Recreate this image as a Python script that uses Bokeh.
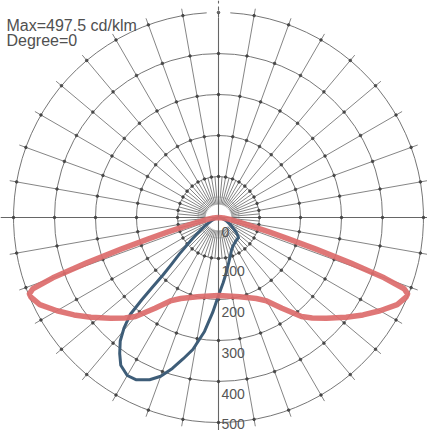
import numpy as np
from bokeh.plotting import figure
from bokeh.embed import file_html
from bokeh.resources import INLINE
from bokeh.core.properties import value

# ---- data (angle from nadir in degrees, intensity in cd/klm) ----
red_angles = [0, 15, 25, 30, 35, 40, 43, 47, 52, 56, 60, 64, 67, 68, 69, 70, 71, 72, 73, 74, 75, 77, 80, 85, 90]
red_values = [190, 200, 218, 235, 270, 315, 335, 360, 395, 425, 455, 485, 497, 497.5, 485, 430, 340, 250, 180, 130, 95, 60, 32, 12, 0]

blue_angles = [-90, -75, -65, -58, -53, -50, -47, -45, -44, -43.5, -43, -42.3, -40.5, -38.5, -36, -33.5, -30, -27, -23, -20,
               -17, -14, -11, -7, -3.5, 0, 4, 8, 13, 17.5, 22, 28, 35, 45, 50, 58, 68, 78, 90]
blue_values = [0, 8, 20, 40, 65, 90, 130, 165, 195, 235, 275, 320, 355, 385, 410, 432, 445, 444, 430, 412,
               385, 355, 328, 280, 232, 190, 160, 136, 112, 97, 85, 77, 72, 69, 57, 37, 20, 8, 0]

ring_values = [100, 200, 300, 400, 500]
ring_labels = ["0", "100", "200", "300", "400", "500"]
title_lines = ["Max=497.5 cd/klm", "Degree=0"]

# ---- layout ----
W, H = 427, 430
S = 0.41            # px per cd
CX, CY = 226 - 8, 225 - 8   # centre in figure px
u = 1.0 / S         # cd per px

p = figure(width=W, height=H, output_backend="svg", toolbar_location=None,
           x_range=(-CX * u, (W - CX) * u), y_range=(-(H - CY) * u, CY * u),
           min_border=0, outline_line_color=None, background_fill_color="white",
           border_fill_color="white")
p.axis.visible = False
p.grid.visible = False

grid_col = "#666666"

# rings (outer ring with a small gap at the top)
for r in ring_values:
    if r == 500:
        p.arc(x=0, y=0, radius=r, start_angle=np.deg2rad(93.3), end_angle=np.deg2rad(86.7 + 360),
              line_color=grid_col, line_width=0.9)
    else:
        p.arc(x=0, y=0, radius=r, start_angle=0, end_angle=2 * np.pi, line_color=grid_col, line_width=0.9)
p.arc(x=0, y=0, radius=50, start_angle=0, end_angle=2 * np.pi, line_color=grid_col, line_width=0.6, line_alpha=0.5)

# spokes
r_in = 13 * u
r_out = 212 * u
x0, y0, x1, y1 = [], [], [], []
for a in range(0, 360, 10):
    if a % 90 == 0:
        continue
    t = np.deg2rad(a)
    x0.append(r_in * np.cos(t)); y0.append(r_in * np.sin(t))
    x1.append(r_out * np.cos(t)); y1.append(r_out * np.sin(t))
for a in range(5, 360, 10):
    t = np.deg2rad(a)
    x0.append(r_in * np.cos(t)); y0.append(r_in * np.sin(t))
    x1.append(100 * np.cos(t)); y1.append(100 * np.sin(t))
p.segment(x0=x0, y0=y0, x1=x1, y1=y1, line_color=grid_col, line_width=0.8)
# main axes
p.segment(x0=[-218 * u, 0], y0=[0, -213 * u], x1=[209 * u, 0], y1=[0, 200 * u],
          line_color=grid_col, line_width=1.1)
p.segment(x0=[0], y0=[200 * u], x1=[0], y1=[217 * u], line_color=grid_col, line_width=1.1, line_dash="4 3")

# intersection dots
dx, dy = [], []
for r in ring_values:
    for a in range(0, 360, 10):
        t = np.deg2rad(a)
        dx.append(r * np.cos(t)); dy.append(r * np.sin(t))
p.scatter(dx, dy, size=2.6, color="#3a3a3a", alpha=0.75)

# ---- curves ----
def to_xy(angles, vals):
    t = np.deg2rad(np.asarray(angles, dtype=float))
    v = np.asarray(vals, dtype=float)
    return v * np.sin(t), -v * np.cos(t)

bx, by = to_xy(blue_angles, blue_values)
p.line(bx, by, line_color="#3e5d78", line_width=3, line_join="round")

ra = [-a for a in red_angles[::-1]] + red_angles[1:]
rv = red_values[::-1] + red_values[1:]
rx, ry = to_xy(ra, rv)
p.line(rx, ry, line_color="#dc6b6b", line_width=5.5, line_alpha=0.92, line_join="round")

# ---- labels ----
lab_y = []
for i, lab in enumerate(ring_labels):
    off = i * 100 * S + (14 if i == 0 else 12)
    off = min(off, H - CY - 7)  # keep inside figure
    lab_y.append(-off * u)
p.text(x=[3 * u] * len(ring_labels), y=lab_y, text=ring_labels, text_align="left", text_baseline="middle",
       text_font=value("Liberation Sans"), text_font_size="14px", text_color="#555555")

p.text(x=[(14 - 8 - CX) * u] * 2, y=[(CY - (33 - 8)) * u, (CY - (48 - 8)) * u], text=title_lines,
       text_align="left", text_baseline="alphabetic",
       text_font=value("Liberation Sans"), text_font_size="16px", text_color="#505050")

open("out.html", "w").write(file_html(p, INLINE))
